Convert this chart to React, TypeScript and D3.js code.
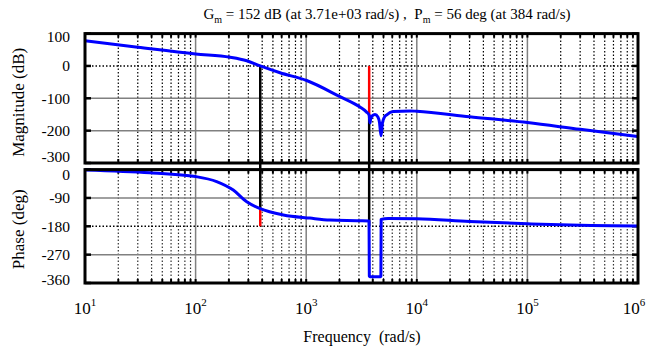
import React from 'react';
import * as d3 from 'd3';

const xTickExps = [1, 2, 3, 4, 5, 6];
const magTicks = [100, 0, -100, -200, -300];
const phaseTicks = [0, -90, -180, -270, -360];

const magFreq = [10, 30, 100, 205, 290, 384, 580, 1010, 2020, 3060, 3500, 3710, 3740, 3777, 3820, 3950, 4190, 4450, 4600, 4745, 4900, 5100, 5350, 6140, 8690, 10000, 30000, 100000, 300000, 1000000];
const magDb = [78, 58, 37, 27, 16, 0, -21, -45, -95, -127, -142, -152, -165, -176, -165, -154, -150, -158, -175, -216, -175, -158, -151, -141, -139, -140, -157, -175, -196, -218];

const phaseFreq = [10, 38.7, 100, 155, 219, 290, 384, 621, 1081, 1641, 3000, 3700, 3722, 3790, 4700, 4735, 4760, 5500, 10000, 30000, 100000, 300000, 1000000];
const phaseDeg = [-1, -10, -22, -38, -65, -102, -124, -144, -154, -160, -162, -163, -338, -340, -340, -338, -158, -155, -156, -165, -172, -177, -179];

const gmFreq = 3710;
const gmDb = -152;
const pmFreq = 384;
const pmPhase = -124;

const titleParts = { gm: '152 dB (at 3.71e+03 rad/s)', pm: '56 deg (at 384 rad/s)' };

export default function App() {
  const W = 648, H = 359;
  const L = 85, R = 638;
  const x = d3.scaleLog().domain([10, 1e6]).range([L, R]);
  const yM = d3.scaleLinear().domain([-300, 100]).range([163, 33.6]);
  const yP = d3.scaleLinear().domain([-360, 0]).range([283, 169.6]);

  const minor: number[] = [];
  for (let e = 1; e < 6; e++) for (let k = 2; k <= 9; k++) minor.push(k * Math.pow(10, e));
  const major = xTickExps.map(e => Math.pow(10, e));

  const magLine = d3.line<number>().x((_, i) => x(magFreq[i])).y(d => yM(d)).curve(d3.curveMonotoneX);
  const phLine = d3.line<number>().x((_, i) => x(phaseFreq[i])).y(d => yP(d)).curve(d3.curveMonotoneX);

  const font = "'Liberation Serif', 'Times New Roman', 'DejaVu Serif', serif";
  const ts = { fontFamily: font };
  const panels = [
    { y: yM, ticks: magTicks, dotted: [0], top: 33.6, bot: 163, minorColor: '#000', lo: 3, hi: 6 },
    { y: yP, ticks: phaseTicks, dotted: [-180], top: 169.6, bot: 283, minorColor: '#333', lo: 4.5, hi: 3 },
  ];

  return (
    <svg width={W} height={H} style={{ position: 'absolute', left: 0, top: 0, background: '#fff', fontFamily: font }}>
      <rect x={0} y={0} width={W} height={H} fill="#fff" />
      {panels.map((p, pi) => (
        <g key={pi}>
          {minor.map((f, i) => (
            <line key={'mn' + i} x1={x(f)} x2={x(f)} y1={p.top} y2={p.bot} stroke={p.minorColor} strokeWidth={1.2} strokeDasharray="1.5,2" />
          ))}
          {major.map((f, i) => (
            <line key={'mj' + i} x1={x(f)} x2={x(f)} y1={p.top} y2={p.bot} stroke="#808080" strokeWidth={1.5} />
          ))}
          {p.ticks.map((t, i) => (
            p.dotted.includes(t) ?
              <line key={'h' + i} x1={L} x2={R} y1={p.y(t)} y2={p.y(t)} stroke="#000" strokeWidth={1.4} strokeDasharray="1.5,2" /> :
              <line key={'h' + i} x1={L} x2={R} y1={p.y(t)} y2={p.y(t)} stroke="#808080" strokeWidth={1.5} />
          ))}
          {minor.concat(major).map((f, i) => (
            <g key={'tk' + i}>
              <line x1={x(f)} x2={x(f)} y1={p.top} y2={p.top + 4} stroke="#000" strokeWidth={2} />
              <line x1={x(f)} x2={x(f)} y1={p.bot} y2={p.bot - 4} stroke="#000" strokeWidth={2} />
            </g>
          ))}
          {p.ticks.map((t, i) => (
            <g key={'yt' + i}>
              <line x1={L} x2={L + 6} y1={p.y(t)} y2={p.y(t)} stroke="#000" strokeWidth={2.5} />
              <line x1={R} x2={R - 6} y1={p.y(t)} y2={p.y(t)} stroke="#000" strokeWidth={2.5} />
              <text x={70} y={Math.min(Math.max(p.y(t), p.top + p.lo), p.bot - p.hi)} dy="0.35em" textAnchor="end" fontSize={15.5} style={ts}>{t}</text>
            </g>
          ))}
        </g>
      ))}

      <line x1={x(gmFreq)} x2={x(gmFreq)} y1={yM(gmDb)} y2={yP(-180)} stroke="#000" strokeWidth={2.5} />
      <line x1={x(gmFreq)} x2={x(gmFreq)} y1={yM(0)} y2={yM(gmDb)} stroke="#ff0000" strokeWidth={2.5} />
      <line x1={x(pmFreq)} x2={x(pmFreq)} y1={yM(0)} y2={yP(pmPhase)} stroke="#000" strokeWidth={2.5} />
      <line x1={x(pmFreq)} x2={x(pmFreq)} y1={yP(pmPhase)} y2={yP(-180)} stroke="#ff0000" strokeWidth={2.5} />

      <path d={magLine(magDb) || ''} fill="none" stroke="#0000ff" strokeWidth={3} strokeLinejoin="round" />
      <path d={phLine(phaseDeg) || ''} fill="none" stroke="#0000ff" strokeWidth={3} strokeLinejoin="round" />

      {panels.map((p, pi) => (
        <rect key={'fr' + pi} x={L} y={p.top} width={R - L} height={p.bot - p.top} fill="none" stroke="#000" strokeWidth={3} />
      ))}

      {major.map((f, i) => (
        <text key={'xl' + i} x={Math.min(x(f), 634)} y={314} textAnchor="middle" fontSize={17} style={ts}>
          <tspan>10</tspan>
          <tspan dy={-8} fontSize={11}>{xTickExps[i]}</tspan>
        </text>
      ))}

      <text x={362} y={342} textAnchor="middle" fontSize={16} style={{ ...ts, whiteSpace: 'pre' }}>{'Frequency  (rad/s)'}</text>
      <text transform={`translate(24,${(33.6 + 163) / 2 + 4}) rotate(-90)`} textAnchor="middle" fontSize={17} style={ts}>Magnitude (dB)</text>
      <text transform={`translate(24,${(169.6 + 283) / 2 + 3}) rotate(-90)`} textAnchor="middle" fontSize={17} style={ts}>Phase (deg)</text>

      <text x={387} y={19} textAnchor="middle" fontSize={15} style={{ ...ts, whiteSpace: 'pre' }}>
        <tspan>G</tspan><tspan dy={4} fontSize={10}>m</tspan><tspan dy={-4}>{' = ' + titleParts.gm + ' ,  P'}</tspan><tspan dy={4} fontSize={10}>m</tspan><tspan dy={-4}>{' = ' + titleParts.pm}</tspan>
      </text>
    </svg>
  );
}
